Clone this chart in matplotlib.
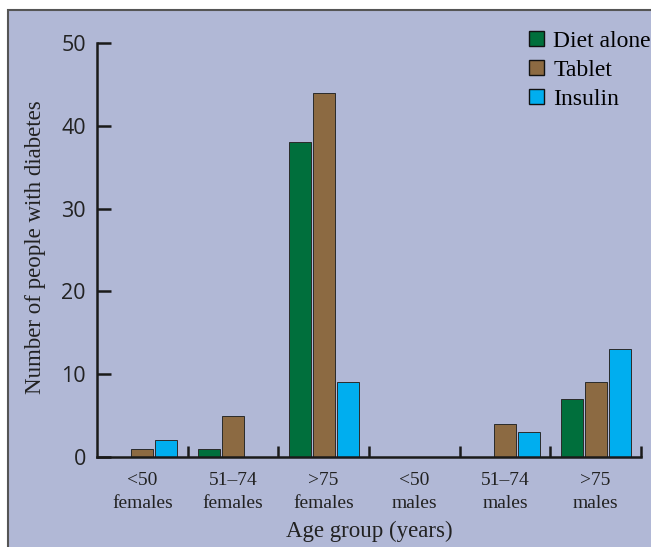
import numpy as np
import matplotlib
matplotlib.use("Agg")
import matplotlib.pyplot as plt
from matplotlib.patches import Rectangle

# data
groups = ["<50\nfemales", "51\u201374\nfemales", ">75\nfemales",
          "<50\nmales", "51\u201374\nmales", ">75\nmales"]
diet_alone = [0, 1, 38, 0, 0, 7]
tablet = [1, 5, 44, 0, 4, 9]
insulin = [2, 0, 9, 0, 3, 13]
series_names = ["Diet alone", "Tablet", "Insulin"]
colors = ["#006f3c", "#8c6a42", "#00aeef"]

SERIF = "Liberation Serif"
SANS = "Open Sans"

fig = plt.figure(figsize=(6.51, 5.47), dpi=100)
fig.patch.set_facecolor("white")

# lavender panel with grey border (runs off right/bottom)
panel = Rectangle((8 / 651, -0.1), 1.2, 1 - 10 / 547 + 0.1, transform=fig.transFigure,
                  facecolor="#b1b8d6", edgecolor="#555555", linewidth=1.5, zorder=-10)
fig.patches.append(panel)

ax = fig.add_axes([97 / 651, 1 - 457 / 547, (641 - 97) / 651, (457 - 43) / 547])
ax.set_facecolor("none")

x = np.arange(len(groups)) + 0.5
w = 0.243
step = 0.265
for k, vals in enumerate([diet_alone, tablet, insulin]):
    ax.bar(x + (k - 1) * step, vals, width=w, color=colors[k], edgecolor="#2a2a2a",
           linewidth=0.7, label=series_names[k], zorder=2)

ax.set_xlim(0, 6)
ax.set_ylim(0, 50)

for s in ["top", "right"]:
    ax.spines[s].set_visible(False)
for s in ["left", "bottom"]:
    ax.spines[s].set_linewidth(1.8)
    ax.spines[s].set_color("#1a1a1a")
    ax.spines[s].set_zorder(3)

ax.set_yticks([0, 10, 20, 30, 40, 50])
ax.tick_params(axis="y", direction="in", length=10, width=1.8, pad=8,
               labelsize=15.5, color="#1a1a1a")
for t in ax.get_yticklabels():
    t.set_fontfamily(SANS)
    t.set_color("#222222")

ax.set_xticks([1, 2, 3, 4, 5, 6])
ax.set_xticklabels([])
ax.set_xticks(x, minor=True)
ax.set_xticklabels(groups, minor=True, fontfamily=SERIF, fontsize=14,
                   linespacing=1.45, color="#222222")
ax.tick_params(axis="x", which="major", direction="in", length=8, width=1.8,
               color="#1a1a1a")
ax.tick_params(axis="x", which="minor", length=0, pad=11)

ax.set_xlabel("Age group (years)", fontfamily=SERIF, fontsize=16.5, labelpad=6,
              color="#222222")
ax.set_ylabel("Number of people with diabetes", family=[SERIF], fontsize=16.5,
              color="#222222")
ax.yaxis.set_label_coords(46 / 651, 1 - 247 / 547, transform=fig.transFigure)

leg = ax.legend(loc="upper right", bbox_to_anchor=(1.0, 1 - 31 / 547),
                bbox_transform=fig.transFigure, frameon=False,
                prop={"family": SERIF, "size": 17}, handlelength=0.62,
                handleheight=0.62, handletextpad=0.4, labelspacing=0.33,
                borderpad=0, borderaxespad=0)
for h in leg.legend_handles:
    h.set_edgecolor("#111111")
    h.set_linewidth(1.0)

fig.savefig("out.png", dpi=100)
